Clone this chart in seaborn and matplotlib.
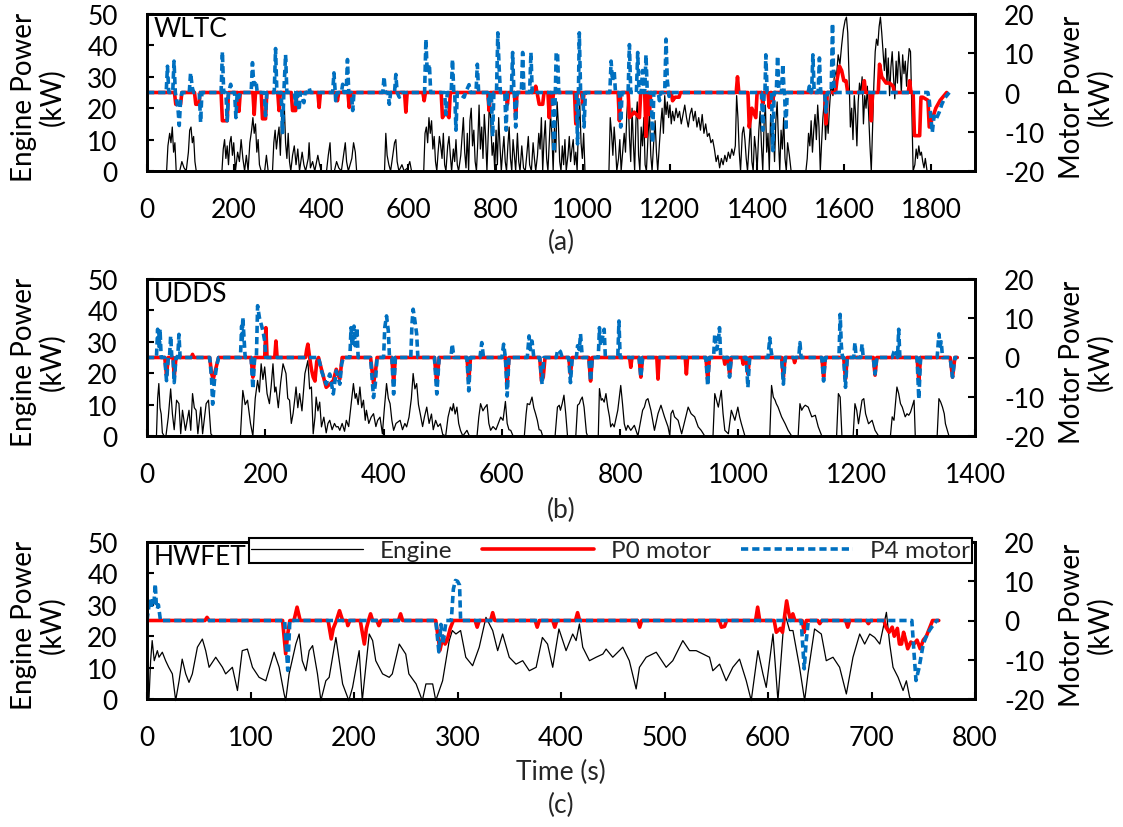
import matplotlib
matplotlib.use("Agg")
import matplotlib.pyplot as plt
from matplotlib.lines import Line2D
import seaborn as sns
import pandas as pd

# ---------------- data (time s, power kW) ----------------
wltc_engine = [(0,0),(45,0),(48,8),(52,12),(55,9),(58,14),(61,6),(64,9),(67,0),(75,0),(80,3),(85,1),(90,0),(95,6),(98,13),(101,14),(104,9),(107,11),(110,3),(113,0),(172,0),(175,7),(178,10),(181,4),(184,8),(187,2),(190,9),(193,11),(196,5),(199,9),(203,0),(208,6),(212,3),(216,10),(220,4),(224,0),(228,5),(232,0),(236,9),(240,13),(243,17),(246,12),(249,15),(252,6),(255,10),(258,2),(262,0),(270,0),(274,5),(278,0),(288,0),(291,9),(294,13),(297,7),(300,11),(303,14),(306,5),(309,18),(312,12),(315,21),(318,9),(321,4),(324,12),(327,3),(330,0),(334,5),(338,8),(342,2),(346,7),(350,0),(356,6),(360,2),(364,0),(370,4),(372,9),(375,1),(380,3),(385,0),(392,5),(396,2),(400,0),(412,0),(416,5),(420,9),(423,0),(430,0),(435,3),(440,1),(446,0),(455,9),(458,3),(462,0),(470,4),(474,9),(478,6),(481,0),(545,0),(548,12),(551,5),(555,2),(559,0),(568,9),(571,10),(574,3),(578,0),(585,2),(590,0),(598,1),(603,3),(607,0),(635,0),(638,12),(641,14),(644,9),(647,17),(650,12),(653,16),(656,7),(659,11),(662,3),(665,0),(668,6),(671,11),(674,8),(677,4),(680,12),(683,2),(686,0),(690,8),(693,11),(696,5),(699,0),(703,7),(706,3),(709,10),(712,2),(715,0),(720,5),(723,11),(726,17),(729,6),(732,1),(735,12),(738,0),(741,16),(744,20),(747,8),(750,13),(753,3),(756,0),(759,9),(762,21),(765,7),(768,14),(771,4),(774,18),(777,11),(780,0),(783,12),(786,23),(789,15),(792,5),(795,9),(798,0),(801,13),(804,2),(807,17),(810,8),(813,0),(816,6),(819,11),(822,3),(825,0),(828,8),(831,14),(834,4),(837,0),(840,10),(843,5),(846,0),(850,12),(853,3),(856,0),(860,8),(864,1),(868,0),(872,6),(875,11),(878,2),(882,0),(886,9),(889,4),(892,0),(896,5),(899,12),(902,7),(905,17),(908,0),(911,10),(914,16),(917,4),(920,0),(923,9),(926,18),(929,12),(932,0),(935,14),(938,6),(941,22),(944,15),(947,3),(950,0),(953,8),(956,2),(959,10),(962,0),(966,5),(969,11),(972,3),(975,7),(978,10),(981,2),(984,6),(987,0),(990,14),(993,22),(996,9),(999,4),(1002,12),(1005,0),(1015,0),(1060,0),(1063,17),(1066,12),(1069,5),(1072,14),(1075,8),(1078,0),(1082,4),(1085,10),(1088,0),(1092,7),(1095,12),(1098,6),(1101,18),(1104,25),(1107,11),(1110,3),(1113,20),(1116,9),(1119,0),(1122,16),(1125,22),(1128,5),(1131,0),(1134,14),(1137,8),(1140,17),(1143,2),(1146,0),(1150,12),(1153,19),(1156,5),(1159,0),(1163,10),(1166,16),(1169,6),(1172,0),(1176,9),(1179,15),(1182,20),(1185,12),(1188,24),(1191,18),(1194,22),(1197,17),(1200,21),(1203,15),(1206,19),(1210,16),(1214,20),(1218,17),(1222,19),(1226,15),(1230,18),(1234,21),(1238,17),(1242,14),(1246,18),(1250,20),(1254,16),(1258,19),(1262,14),(1266,17),(1270,13),(1274,18),(1278,12),(1282,15),(1286,11),(1290,12),(1294,9),(1298,10),(1302,7),(1306,3),(1310,5),(1314,1),(1318,4),(1322,2),(1326,5),(1330,3),(1334,6),(1338,4),(1342,7),(1346,5),(1350,8),(1353,24),(1356,17),(1359,6),(1362,0),(1366,12),(1369,14),(1372,10),(1375,4),(1378,0),(1382,9),(1385,16),(1388,3),(1391,0),(1394,11),(1397,7),(1400,0),(1404,13),(1407,19),(1410,8),(1413,0),(1416,15),(1419,21),(1422,6),(1425,12),(1428,0),(1431,18),(1434,9),(1437,14),(1440,3),(1443,16),(1446,22),(1449,10),(1452,0),(1455,13),(1458,7),(1461,17),(1464,4),(1467,0),(1470,9),(1474,5),(1478,0),(1512,0),(1515,4),(1518,12),(1521,8),(1524,16),(1527,6),(1530,13),(1533,18),(1536,10),(1539,21),(1542,14),(1545,0),(1548,9),(1551,17),(1554,22),(1557,10),(1560,18),(1563,12),(1566,20),(1570,28),(1574,24),(1578,32),(1582,30),(1586,37),(1590,34),(1594,40),(1598,45),(1602,48),(1605,49),(1608,44),(1611,30),(1614,14),(1617,20),(1620,10),(1623,24),(1626,18),(1629,8),(1632,22),(1635,28),(1638,25),(1641,30),(1644,15),(1647,24),(1650,20),(1653,27),(1656,18),(1659,8),(1662,0),(1665,14),(1668,28),(1671,38),(1674,42),(1677,40),(1680,46),(1683,49),(1686,44),(1689,38),(1692,32),(1695,39),(1698,28),(1701,36),(1704,24),(1707,33),(1710,38),(1713,30),(1716,23),(1719,35),(1722,28),(1725,38),(1728,33),(1731,25),(1734,37),(1737,31),(1740,35),(1743,27),(1746,34),(1749,39),(1752,38),(1755,20),(1758,0),(1762,2),(1765,7),(1768,4),(1771,8),(1774,5),(1777,6),(1780,3),(1783,1),(1786,4),(1790,0),(1800,0)]

wltc_p0 = [(0,0),(63,0),(66,-3),(77,-3),(80,0),(109,0),(112,-3),(119,-3),(122,0),(170,0),(173,-7.2),(184,-7.2),(187,0),(208,0),(211,-4.8),(214,0),(243,0),(246,-5.6),(249,0),(262,0),(265,-6.7),(272,-6.7),(275,0),(300,0),(303,-4.6),(306,0),(331,0),(334,-4.6),(341,-4.6),(344,0),(392,0),(395,-3.8),(398,0),(434,0),(437,-2.1),(440,0),(461,0),(464,-3.8),(467,0),(591,0),(594,-5),(597,0),(633,0),(636,-2.1),(639,0),(675,0),(678,-6.4),(686,-5),(693,-6.4),(696,0),(782,0),(785,-4.6),(788,0),(824,0),(827,-3),(830,0),(843,0),(846,-6.4),(849,0),(889,0),(892,1.6),(895,0),(900,-3),(908,-3),(911,0),(920,0),(923,-6.4),(926,0),(930,-3),(933,0),(981,0),(984,-8),(987,0),(997,0),(1000,-3),(1003,0),(1081,0),(1084,-7.2),(1087,0),(1104,0),(1107,-6.4),(1118,-5),(1130,-6.4),(1133,0),(1142,0),(1145,-11.2),(1148,0),(1150,0),(1153,-5.6),(1156,0),(1203,0),(1206,-2.1),(1212,-1.2),(1221,-1.2),(1224,0),(1352,0),(1355,4),(1358,0),(1379,0),(1382,-8.8),(1388,-4),(1397,-6.4),(1400,0),(1410,0),(1413,-3),(1416,0),(1425,0),(1428,-3.8),(1431,0),(1433,0),(1436,-2.1),(1439,0),(1555,0),(1558,-8),(1561,0),(1580,0),(1583,3),(1589,6.7),(1594,5.6),(1599,3),(1604,3),(1608,0),(1643,0),(1646,3),(1649,0),(1659,0),(1662,-7.2),(1665,0),(1678,0),(1681,7.2),(1686,4),(1696,2.4),(1704,2.4),(1712,1.6),(1715,0),(1747,0),(1750,3),(1753,0),(1758,0),(1761,-11),(1773,-11),(1776,-1.2),(1780,-1.2),(1792,-2),(1795,-8.8),(1803,-6.4),(1810,-4),(1820,-2),(1835,0)]

wltc_p4 = [(0,0),(44,0),(47,6.7),(50,0),(59,0),(62,8),(65,0),(68,-2),(71,-4),(74,-8.4),(77,-2),(80,0),(97,0),(100,5),(104,1.2),(107,0),(120,0),(123,-7.6),(126,0),(170,0),(173,10.4),(176,0),(181,0),(184,-7.2),(187,0),(192,2.1),(195,0),(201,0),(204,-6.4),(207,0),(211,-1.2),(214,0),(239,0),(242,7.6),(245,2),(250,3),(253,0),(269,0),(272,-5.9),(275,0),(292,0),(295,11.2),(298,0),(308,0),(311,-10.2),(314,0),(318,9.6),(321,0),(338,0),(341,-3),(344,0),(349,-4.6),(352,0),(360,-2.6),(363,0),(369,0),(372,1.2),(375,0),(426,0),(429,5),(432,0),(433,-2.1),(436,0),(446,0),(449,2.1),(452,0),(457,0),(460,8.4),(463,0),(469,0),(472,-4.6),(475,0),(541,0),(544,4),(547,0),(553,0),(556,-3),(559,0),(568,0),(571,4.6),(574,0),(579,-1.2),(582,0),(637,0),(640,13.6),(643,5),(648,7.2),(651,0),(683,0),(686,-5.6),(689,0),(698,0),(701,8.4),(704,0),(706,0),(709,-9.6),(712,0),(728,-1.2),(731,0),(739,2),(742,0),(755,0),(758,7.2),(761,0),(782,0),(785,-3),(788,0),(790,0),(793,-11.2),(796,0),(802,0),(805,15.2),(808,6.4),(811,0),(821,0),(824,-9.6),(827,0),(836,0),(839,10.2),(842,0),(843,0),(846,-8.8),(849,0),(859,0),(862,10.2),(865,0),(878,0),(881,10.2),(884,0),(892,-0.5),(895,0),(930,0),(934,-15.2),(937,0),(939,10.2),(942,10.2),(945,0),(985,0),(988,-13.1),(990,0),(992,15.2),(995,0),(1000,0),(1003,-8.8),(1006,0),(1062,0),(1065,8),(1068,3),(1072,5.6),(1075,0),(1084,0),(1087,-8.8),(1090,0),(1104,0),(1107,12.2),(1110,0),(1123,0),(1126,10.2),(1129,0),(1134,0),(1137,5.6),(1140,0),(1142,0),(1145,9.6),(1148,0),(1157,0),(1160,-12.8),(1163,0),(1173,0),(1176,-2.1),(1179,0),(1188,0),(1191,13.6),(1194,3),(1198,-1),(1201,0),(1410,0),(1413,-9.6),(1416,0),(1418,0),(1420,9.6),(1423,0),(1433,0),(1436,-14.8),(1439,0),(1444,0),(1447,9.3),(1450,0),(1456,0),(1459,7.2),(1462,0),(1463,0),(1466,-9.6),(1469,0),(1517,0),(1520,1.6),(1523,0),(1525,0),(1528,9.6),(1531,0),(1540,0),(1543,8.8),(1546,0),(1555,0),(1558,-5),(1561,0),(1570,0),(1573,17.6),(1576,2),(1579,0),(1792,0),(1795,-2),(1802,-10.2),(1806,-6),(1810,-7),(1818,-5),(1824,-3),(1830,-1.5),(1841,0)]

udds_engine = [(0,0),(16,0),(18,12),(20,16.7),(22,9),(24,7),(26,1),(29,0),(32,0),(36,6),(40,15),(43,7),(46,2),(50,11.4),(54,10.3),(57,0.7),(60,8.2),(65,1.8),(71,8.2),(74,1.8),(77,13.5),(80,9),(83,8.2),(86,0.7),(91,9.2),(94,0.7),(100,10.3),(104,11.4),(108,0.7),(111,0),(158,0),(162,14.5),(166,10),(170,11.4),(175,4),(179,0),(183,12),(187,17.7),(190,14),(193,23),(196,18),(199,22),(203,13.5),(207,10.3),(210,16),(213,23),(216,14),(218,15.6),(222,9),(226,17),(230,23),(235,19.9),(238,12),(241,11.4),(244,4),(247,7.1),(250,12),(252,15.6),(255,9),(258,13.5),(262,8),(267,19.9),(272,24),(275,15),(278,15.6),(281,0.7),(284,6),(286,12.4),(289,8),(292,10.8),(295,2.9),(299,6),(303,1),(306,4),(309,5),(313,2),(317,4),(320,2.9),(323,3),(326,1.8),(330,4),(334,1.5),(337,5),(341,3),(345,10),(349,16.7),(352,12),(354,13.5),(357,10),(360,15.6),(363,9),(366,11.4),(369,5),(371,8.2),(375,4),(379,6),(383,7.1),(387,3),(390,5),(394,6),(398,0.7),(401,8),(405,16.7),(408,12),(411,10.3),(414,5),(417,1.8),(421,4),(428,5),(432,2),(436,4),(439,2.9),(443,6),(447,12),(450,19.9),(453,15),(456,16.7),(459,10),(462,7.1),(466,3),(469,6),(473,9.2),(477,4),(481,7),(484,2),(488,5),(492,3),(496,3.9),(500,0.5),(505,0),(509,6),(513,9.2),(516,8),(518,10.3),(521,7),(524,9.2),(527,4),(530,1.8),(534,0),(541,1.8),(545,0),(558,0),(561,6),(564,10.3),(568,8),(571,9),(575,10),(578,4),(581,1.8),(585,3),(590,2),(594,4),(598,6),(602,5),(606,11),(609,4),(612,2),(615,1.8),(619,0),(638,0),(641,7),(643,10.3),(647,10),(651,12.4),(654,9),(657,7.1),(660,5),(663,2),(666,1.8),(669,0),(690,0),(694,9.2),(697,9.8),(699,8.2),(702,10.3),(705,13),(708,7.1),(711,0),(725,0),(728,9.8),(731,10.3),(733,11.4),(736,12.4),(739,9.2),(743,1),(745,0),(763,0),(765,15.1),(768,11.4),(770,11.9),(773,10.8),(776,13.5),(779,9.2),(782,6.1),(784,2.9),(787,3.9),(790,2.9),(796,8.2),(801,16.1),(804,10.3),(807,3.9),(810,1.8),(813,3.4),(818,1.8),(824,3.4),(830,0),(838,8.2),(841,9.2),(844,11.4),(847,11.9),(852,8.2),(855,5),(858,1.8),(864,7.1),(869,9.8),(875,6.1),(881,2.9),(884,0),(886,7.1),(889,8.2),(892,6.1),(898,5),(904,0.7),(915,9.2),(920,7.1),(926,6.1),(932,2.9),(937,1.8),(943,0),(957,0),(960,13.5),(963,11.4),(966,9.2),(971,14.5),(974,7.1),(977,1.8),(983,0.7),(988,8.2),(994,5),(999,9.2),(1002,6.1),(1005,3.9),(1011,0),(1053,0),(1056,16.1),(1059,12.4),(1062,11.4),(1064,10.3),(1067,9.2),(1073,6.1),(1079,3.9),(1084,1.8),(1090,0),(1101,0),(1104,10.3),(1107,8.2),(1110,9.2),(1113,9.8),(1118,9.2),(1124,6.1),(1130,6.6),(1135,2.9),(1141,0),(1166,0),(1169,13.5),(1172,12.4),(1175,0),(1194,0),(1197,10.3),(1200,8.2),(1203,3.9),(1209,11.4),(1212,11.9),(1215,7.1),(1220,3.9),(1226,5),(1231,1.8),(1237,0),(1257,0),(1260,6.1),(1263,5),(1266,11.4),(1268,15.6),(1271,13.5),(1274,10.3),(1277,9.2),(1282,6.1),(1285,7.1),(1288,6.6),(1291,7.6),(1297,11.4),(1299,0),(1336,0),(1339,11.9),(1342,10.8),(1345,9.2),(1348,7.1),(1350,3.9),(1356,0),(1370,0)]

udds_p0 = [(0,0),(30,0),(33,-4.5),(36,0),(44,0),(46,-5),(49,0),(75,0),(77,0.8),(79,0),(106,0),(109,-4),(112,-5.5),(116,-3),(121,0),(176,0),(179,-5),(182,0),(199,0),(201,7.6),(203,0),(216,0),(218,4.2),(220,0),(268,0),(270,2),(272,3.4),(275,0),(278,-3),(281,-5),(284,-6),(287,-1),(290,0),(295,-3),(303,-7.6),(309,-6.8),(315,-5.9),(320,-3),(326,-5.5),(330,0),(378,0),(381,-4),(383,-6.5),(386,-4),(389,0),(414,0),(417,-6.5),(420,0),(486,0),(490,-6.5),(494,0),(541,0),(544,-6),(547,0),(606,0),(609,-6.5),(612,0),(664,0),(667,-6),(670,-5),(673,0),(713,0),(716,-4.2),(719,0),(747,0),(750,-6),(753,0),(816,0),(818,-2.5),(820,0),(832,0),(835,-5),(838,0),(862,0),(864,-5.5),(866,0),(910,0),(912,-4.2),(914,0),(945,0),(948,-5.5),(951,0),(975,0),(977,-1.7),(979,0),(982,0),(985,-4.2),(988,0),(1006,0),(1008,-1.7),(1010,0),(1013,0),(1016,-4.2),(1019,0),(1073,0),(1076,-5),(1079,0),(1093,0),(1095,-1.3),(1097,0),(1141,0),(1144,-5),(1147,0),(1178,0),(1181,-5.5),(1184,0),(1228,0),(1231,-4.5),(1234,0),(1302,0),(1305,-6),(1308,0),(1358,0),(1362,-5),(1366,0),(1370,0)]

udds_p4 = [(0,0),(16,0),(18,7.2),(19,3),(20,6.8),(21,2),(22,7.2),(24,0),(30,0),(33,-5.9),(36,0),(38,0),(40,5.5),(42,0),(44,0),(46,-6.4),(49,0),(52,0),(54,5.9),(56,0),(106,0),(109,-5),(111,-11.9),(114,-6),(118,-2),(121,0),(158,0),(160,8),(161,4),(162,10.2),(164,5),(166,0),(176,0),(179,-8),(182,0),(185,0),(187,13.2),(190,10.2),(193,8.5),(196,6.8),(199,4.2),(201,0),(290,0),(295,-3.4),(303,-6.8),(309,-4.2),(315,-9.3),(320,-3.4),(326,-6.8),(329,-1.7),(332,0),(343,0),(345,7.6),(347,3),(350,8),(352,3),(355,7.6),(357,0),(378,0),(381,-6),(383,-10.2),(386,-6.8),(389,0),(400,0),(402,7.6),(405,10.6),(408,6.8),(410,0),(414,0),(417,-9.3),(420,0),(446,0),(448,8.5),(450,12.3),(453,9.3),(456,5.9),(458,0),(486,0),(490,-9.3),(494,0),(514,0),(516,3.4),(519,0),(541,0),(544,-8.5),(547,0),(563,0),(566,3.8),(569,0),(600,0),(603,3.4),(606,0),(609,-9.8),(612,0),(643,0),(646,5.5),(648,2),(651,4.2),(654,0),(664,0),(668,-6.8),(671,0),(692,0),(694,1.7),(696,2),(699,1.5),(702,0),(713,0),(716,-6.4),(719,0),(726,0),(728,3),(731,2),(733,6),(736,0),(747,0),(750,-6),(753,0),(763,0),(765,7.6),(767,3),(770,5),(773,7.2),(775,0),(796,0),(798,9.3),(800,0),(832,0),(835,-5),(838,0),(945,0),(948,-7.2),(951,0),(958,0),(960,6),(963,2),(966,4),(968,7.6),(970,0),(982,0),(985,-5),(988,0),(1013,0),(1016,-7.6),(1019,0),(1050,0),(1053,5),(1055,2),(1057,0),(1073,0),(1076,-6.8),(1079,0),(1102,0),(1104,3.8),(1106,0),(1141,0),(1144,-6),(1147,0),(1170,0),(1172,11),(1174,3),(1176,0),(1178,0),(1181,-7.6),(1184,0),(1195,0),(1197,3.8),(1199,0),(1207,0),(1209,3.4),(1211,0),(1228,0),(1231,-4.2),(1234,0),(1260,0),(1263,1.5),(1266,2),(1269,0),(1271,7.2),(1273,0),(1302,0),(1305,-10.6),(1308,0),(1336,0),(1339,6),(1341,3),(1343,4),(1345,0),(1358,0),(1362,-5),(1366,0),(1370,0)]

hwfet_engine = [(0,0),(2,0.5),(3.5,12.2),(5,18.6),(7,12.2),(10,15.4),(11.6,13.3),(14.8,14.9),(18,12.2),(21,10.1),(24.5,8),(27.7,-0.5),(31,5.8),(34,12.7),(37.4,8),(40.6,5.3),(43.8,8),(48.7,16.5),(53.5,19.1),(56.7,15.4),(60,10.1),(66.4,13.3),(72.9,10.1),(76,8),(82.5,10.1),(87.4,2.7),(92,15.4),(97,15.9),(101.9,10.1),(108.3,6.9),(114.8,5.8),(122.8,14.9),(127.7,10.1),(132.5,1.6),(134,-0.5),(137.3,8),(143.8,17.5),(147,20.7),(150,12.2),(153.5,9),(156.7,15.4),(160,17),(164.7,8),(168,-0.5),(172.8,5.8),(176,6.9),(182.5,19.6),(185.7,12.2),(189,4.8),(195,-0.5),(198.6,3.7),(205,15.4),(208,-0.5),(214.7,20.7),(218,18.6),(221,12.2),(227.6,8),(234,6.9),(237,8),(243.7,17.5),(250,14.3),(253,8),(260,4.8),(266,-0.5),(269.5,4.8),(276,4.8),(279,-0.5),(285.6,5.8),(292,18.6),(295,21.8),(298.5,20.7),(303,21.8),(308,13.3),(314.6,10.6),(321,16.5),(327.5,26),(334,21.8),(338.8,15.4),(343.6,20.7),(350,13.3),(356.5,11.1),(363,12.2),(369.4,9),(376,10.1),(382,19.6),(387,17.5),(392,10.1),(398,22.3),(404.9,15.4),(411.3,20.7),(414.6,18.6),(417.8,23.9),(421,16.5),(427.5,12.2),(433.9,13.3),(440.4,14.3),(443.6,15.9),(450,13.3),(459.7,16.5),(466,12.2),(472.6,3.2),(475.8,10.1),(482.3,13.3),(492,14.9),(501.6,10.1),(508,12.2),(517.7,18.6),(524.2,15.4),(530.6,15.4),(543.5,13.3),(546.7,9),(553.2,11.1),(559.6,5.8),(566,10.1),(572.5,12.7),(579,5.8),(583.8,-0.5),(590.3,15.4),(595.1,8),(598.3,3.7),(604.8,20.7),(609.6,-0.5),(616,27.6),(620.9,21.8),(624.1,21.8),(630.5,10.1),(635.4,-0.5),(638.6,8),(645,22.3),(651.5,20.7),(656.3,12.2),(662.8,13.3),(669.2,10.1),(675.7,1.6),(682.1,13.3),(688.6,20.7),(693.4,17.5),(698.3,20.7),(703.1,19.6),(708,17.5),(714.4,27.6),(717.6,17.5),(720.8,10.1),(725.7,6.9),(730.5,2.7),(733.7,5.8),(736.9,0.5),(740.2,-0.5)]

hwfet_p0 = [(0,0),(56,0),(58,0.8),(60,0),(131,0),(134,-8.5),(136,-3.4),(138,0),(142,0),(145,3.4),(148,0),(175,0),(178,-4.7),(180,-2),(183,0),(186,2.5),(189,0),(193,0),(194,-1.3),(196,0),(206,0),(208,-3),(210,-6),(212,-2),(214,0),(216,1.7),(218,0),(222,0),(224,-1.3),(226,0),(243,0),(245,1.7),(247,0),(279,0),(283,-7.6),(286,-4),(288,-6),(290,-5),(293,-2),(296,0),(317,0),(319,-1.7),(321,0),(332,0),(334,2),(336,0),(375,0),(377,-1.7),(379,0),(392,0),(394,-1.7),(396,0),(414,0),(416,2),(418,0),(474,0),(476,-1.7),(478,0),(553,0),(555,-1.7),(558,-1.5),(560,0),(588,0),(590,3.4),(592,0),(606,0),(608,-3),(612,-2),(614,-3),(616,1),(618,5),(620,2),(622,0),(624,1.7),(626,0),(633,0),(635,-3),(637,0),(648,0),(650,-0.8),(652,0),(675,0),(677,-1.7),(679,0),(695,0),(697,-0.8),(699,0),(712,0),(714,-1.7),(717,-3),(720,-1.7),(722,-4),(725,-2),(727,-6),(729,-6),(731,-3),(733,-5),(735,-7.2),(738,-5.5),(741,-6),(744,-5),(747,-7.2),(750,-5),(753,-4),(756,-2),(759,0),(765,0)]

hwfet_p4 = [(0,0),(2,4),(3,5.5),(4,3),(5,5),(6,4),(7,5.5),(8,9.3),(9,4),(10,3),(11,4),(12,2),(13,0),(133,0),(136,-12.7),(138,0),(279,0),(282,-8),(284,-1),(286,-6),(289,0),(294,0),(296,8),(298,10.2),(300,10),(302,9),(303,0),(632,0),(635,-12.3),(637,-5),(639,0),(739,0),(741,-8),(743,-15.3),(746,-12),(750,-6),(753,-4),(756,-2.5),(760,-1),(763,0),(765,0)]

cycle_names = ["WLTC", "UDDS", "HWFET"]
panel_letters = ["(a)", "(b)", "(c)"]
x_max = [1900, 1400, 800]
x_step = [200, 200, 100]
x_tick_max = [1800, 1400, 800]
legend_labels = ["Engine", "P0 motor", "P4 motor"]

# ---------------- style ----------------
sns.set_theme(style="ticks")
plt.rcParams["font.family"] = ["Lato", "DejaVu Sans"]
plt.rcParams["axes.unicode_minus"] = False

BLACK = "#000000"
RED = "#FF0000"
BLUE = "#0070C0"
W, H = 1123, 828

fig = plt.figure(figsize=(W / 100, H / 100), dpi=100)

# axes boxes in pixels: (top, bottom)
boxes = [(15, 172), (280, 437), (543, 700)]
left_px, right_px = 147, 975

series = [
    (wltc_engine, wltc_p0, wltc_p4),
    (udds_engine, udds_p0, udds_p4),
    (hwfet_engine, hwfet_p0, hwfet_p4),
]

TICK_FS = 19
LABEL_FS = 20
LEG_FS = 17.5

for i, (eng, p0, p4) in enumerate(series):
    top, bot = boxes[i]
    ax = fig.add_axes([left_px / W, 1 - bot / H, (right_px - left_px) / W, (bot - top) / H])
    ax2 = ax.twinx()

    de = pd.DataFrame(eng, columns=["t", "kw"])
    d0 = pd.DataFrame(p0, columns=["t", "kw"])
    d4 = pd.DataFrame(p4, columns=["t", "kw"])

    sns.lineplot(data=de, x="t", y="kw", ax=ax, color=BLACK, linewidth=0.9,
                 estimator=None, sort=False, clip_on=False)
    sns.lineplot(data=d0, x="t", y="kw", ax=ax2, color=RED, linewidth=2.6,
                 estimator=None, sort=False)
    sns.lineplot(data=d4, x="t", y="kw", ax=ax2, color=BLUE, linewidth=2.6,
                 estimator=None, sort=False, linestyle=(0, (2.0, 1.1)))

    ax.set_xlim(0, x_max[i])
    ax.set_ylim(0, 50)
    ax2.set_ylim(-20, 20)
    ax.set_xticks(list(range(0, x_tick_max[i] + 1, x_step[i])))
    ax.set_yticks([0, 10, 20, 30, 40, 50])
    ax2.set_yticks([-20, -10, 0, 10, 20])
    for a in (ax, ax2):
        a.set_xlabel("")
        a.set_ylabel("")
        for s in a.spines.values():
            s.set_visible(True)
            s.set_linewidth(2)
            s.set_color(BLACK)
    ax.tick_params(axis="x", direction="in", length=5, width=1.5, labelsize=TICK_FS, pad=19,
                   bottom=True, top=False, colors=BLACK)
    ax.tick_params(axis="y", direction="in", length=5, width=1.5, labelsize=TICK_FS, pad=21,
                   left=True, right=False, colors=BLACK)
    ax2.tick_params(axis="y", direction="in", length=5, width=1.5, labelsize=TICK_FS, pad=21,
                    right=True, left=False, colors=BLACK)

    ax.text(0.008, 0.985, cycle_names[i], transform=ax.transAxes, ha="left", va="top",
            fontsize=19, color=BLACK)

    cy = 1 - ((top + bot) / 2 + 4) / H
    fig.text(38 / W, cy, "Engine Power\n(kW)", rotation=90, ha="center", va="center",
             multialignment="center", fontsize=LABEL_FS, color=BLACK, linespacing=1.05)
    fig.text(1086 / W, cy, "Motor Power\n(kW)", rotation=90, ha="center", va="center",
             multialignment="center", fontsize=LABEL_FS, color=BLACK, linespacing=1.05)

# panel letters and x label
fig.text(561 / W, 1 - 242 / H, panel_letters[0], ha="center", va="center", fontsize=TICK_FS)
fig.text(561 / W, 1 - 510 / H, panel_letters[1], ha="center", va="center", fontsize=TICK_FS)
fig.text(561 / W, 1 - 772 / H, "Time (s)", ha="center", va="center", fontsize=TICK_FS)
fig.text(561 / W, 1 - 805 / H, panel_letters[2], ha="center", va="center", fontsize=TICK_FS)

# legend
handles = [
    Line2D([], [], color=BLACK, linewidth=0.9),
    Line2D([], [], color=RED, linewidth=2.6),
    Line2D([], [], color=BLUE, linewidth=2.6, linestyle=(0, (2.0, 1.1))),
]
leg = fig.legend(handles, legend_labels, loc="center", ncol=3, mode="expand",
                 bbox_to_anchor=(249 / W, 1 - 567 / H, (972 - 249) / W, 31 / H),
                 frameon=True, fancybox=False, edgecolor=BLACK, framealpha=1,
                 borderaxespad=0, handlelength=4.6, handletextpad=0.7, fontsize=LEG_FS,
                 borderpad=0.1)
leg.get_frame().set_linewidth(1.5)

fig.savefig("out.png", dpi=100)
